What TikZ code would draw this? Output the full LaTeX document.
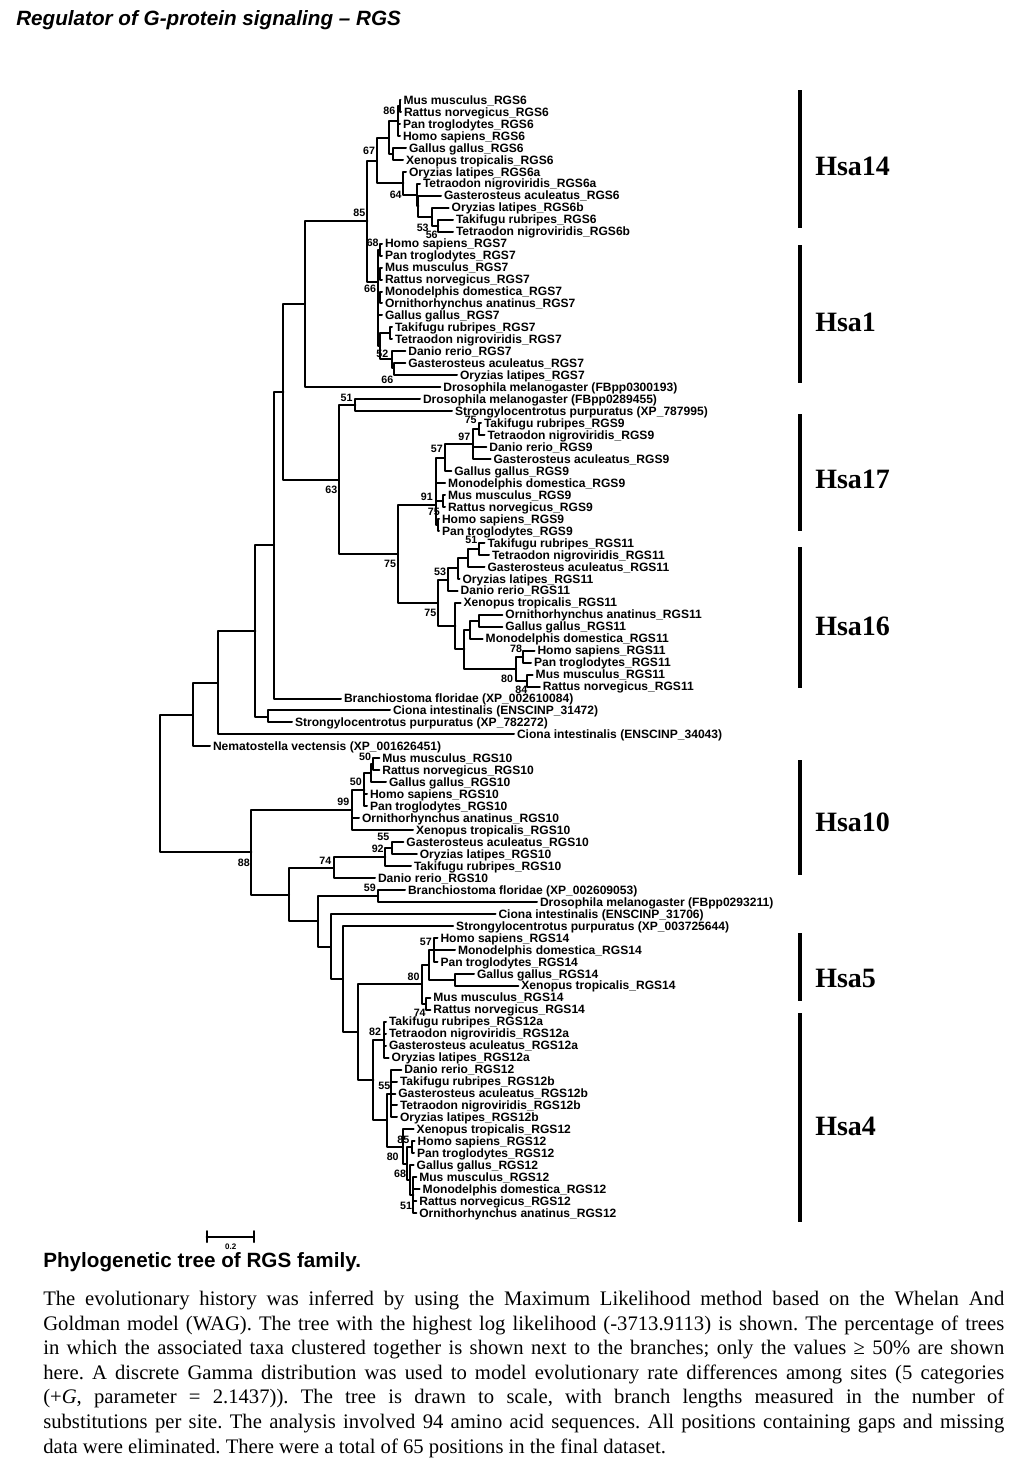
\documentclass[tikz,border=0pt]{standalone}
\usepackage{fontspec}
\setmainfont{Liberation Serif}
\setsansfont{Liberation Sans}
\begin{document}
\begin{tikzpicture}[x=0.75pt, y=-0.75pt, line join=round, line cap=round]
\def\ytop{100}
\def\dy{11.97}
\tikzset{leaf/.style={anchor=west, inner xsep=2.25pt, inner ysep=0pt, outer sep=0pt, text height=6.3pt, text depth=0pt, font=\sffamily\bfseries\fontsize{9.05}{9}\selectfont},
  boot/.style={inner sep=0pt, font=\sffamily\bfseries\fontsize{8}{8}\selectfont},
  br/.style={line width=1.5pt},
  hsa/.style={line width=3pt, line cap=butt},
  chr/.style={anchor=west, inner sep=0pt, font=\rmfamily\bfseries\fontsize{21}{21}\selectfont},
  ttl/.style={anchor=west, inner sep=0pt, font=\sffamily\bfseries\itshape\fontsize{15.5}{16}\selectfont},
  capt/.style={anchor=north west, inner sep=0pt, text width=720.75pt, align=justify, font=\rmfamily\fontsize{15.5}{18.4}\selectfont}}
\useasboundingbox (0,0) rectangle (1019,1475);
\node[ttl] (title) at (16,20) {Regulator of G-protein signaling – RGS};
\foreach \i/\x/\lab in {
  0/400.5/Mus musculus\_RGS6, 1/401/Rattus norvegicus\_RGS6, 2/400/Pan troglodytes\_RGS6, 3/400/Homo sapiens\_RGS6,
  4/406/Gallus gallus\_RGS6, 5/403/Xenopus tropicalis\_RGS6, 6/406/Oryzias latipes\_RGS6a, 7/420/Tetraodon nigroviridis\_RGS6a,
  8/441/Gasterosteus aculeatus\_RGS6, 9/448.7/Oryzias latipes\_RGS6b, 10/453/Takifugu rubripes\_RGS6, 11/453/Tetraodon nigroviridis\_RGS6b,
  12/382/Homo sapiens\_RGS7, 13/382/Pan troglodytes\_RGS7, 14/382/Mus musculus\_RGS7, 15/382/Rattus norvegicus\_RGS7,
  16/382/Monodelphis domestica\_RGS7, 17/382/Ornithorhynchus anatinus\_RGS7, 18/382/Gallus gallus\_RGS7, 19/392/Takifugu rubripes\_RGS7,
  20/392/Tetraodon nigroviridis\_RGS7, 21/405.3/Danio rerio\_RGS7, 22/405.3/Gasterosteus aculeatus\_RGS7, 23/457/Oryzias latipes\_RGS7,
  24/440.3/Drosophila melanogaster (FBpp0300193), 25/420/Drosophila melanogaster (FBpp0289455), 26/452/Strongylocentrotus purpuratus (XP\_787995),
  27/481/Takifugu rubripes\_RGS9, 28/484.5/Tetraodon nigroviridis\_RGS9, 29/486.3/Danio rerio\_RGS9, 30/490.6/Gasterosteus aculeatus\_RGS9,
  31/451.3/Gallus gallus\_RGS9, 32/445.2/Monodelphis domestica\_RGS9, 33/445/Mus musculus\_RGS9, 34/445/Rattus norvegicus\_RGS9,
  35/439/Homo sapiens\_RGS9, 36/439/Pan troglodytes\_RGS9, 37/484.5/Takifugu rubripes\_RGS11, 38/489/Tetraodon nigroviridis\_RGS11,
  39/484.5/Gasterosteus aculeatus\_RGS11, 40/459.5/Oryzias latipes\_RGS11, 41/457.7/Danio rerio\_RGS11, 42/460.6/Xenopus tropicalis\_RGS11,
  43/502.4/Ornithorhynchus anatinus\_RGS11, 44/502.4/Gallus gallus\_RGS11, 45/482.7/Monodelphis domestica\_RGS11, 46/534.5/Homo sapiens\_RGS11,
  47/531/Pan troglodytes\_RGS11, 48/532.7/Mus musculus\_RGS11, 49/539.9/Rattus norvegicus\_RGS11, 50/341/Branchiostoma floridae (XP\_002610084),
  51/390/Ciona intestinalis (ENSCINP\_31472), 52/292/Strongylocentrotus purpuratus (XP\_782272), 53/514/Ciona intestinalis (ENSCINP\_34043),
  54/210/Nematostella vectensis (XP\_001626451), 55/379.3/Mus musculus\_RGS10, 56/379.3/Rattus norvegicus\_RGS10, 57/386/Gallus gallus\_RGS10,
  58/367/Homo sapiens\_RGS10, 59/367/Pan troglodytes\_RGS10, 60/359/Ornithorhynchus anatinus\_RGS10, 61/413/Xenopus tropicalis\_RGS10,
  62/403.4/Gasterosteus aculeatus\_RGS10, 63/416.8/Oryzias latipes\_RGS10, 64/411/Takifugu rubripes\_RGS10, 65/375/Danio rerio\_RGS10,
  66/405/Branchiostoma floridae (XP\_002609053), 67/537/Drosophila melanogaster (FBpp0293211), 68/495.5/Ciona intestinalis (ENSCINP\_31706),
  69/453.2/Strongylocentrotus purpuratus (XP\_003725644), 70/437.5/Homo sapiens\_RGS14, 71/455/Monodelphis domestica\_RGS14,
  72/437.5/Pan troglodytes\_RGS14, 73/474/Gallus gallus\_RGS14, 74/518.4/Xenopus tropicalis\_RGS14, 75/430.4/Mus musculus\_RGS14,
  76/430.4/Rattus norvegicus\_RGS14, 77/386/Takifugu rubripes\_RGS12a, 78/386/Tetraodon nigroviridis\_RGS12a, 79/386/Gasterosteus aculeatus\_RGS12a,
  80/388.7/Oryzias latipes\_RGS12a, 81/401.3/Danio rerio\_RGS12, 82/397/Takifugu rubripes\_RGS12b, 83/395.3/Gasterosteus aculeatus\_RGS12b,
  84/397/Tetraodon nigroviridis\_RGS12b, 85/397/Oryzias latipes\_RGS12b, 86/413.7/Xenopus tropicalis\_RGS12, 87/414.7/Homo sapiens\_RGS12,
  88/414/Pan troglodytes\_RGS12, 89/413.7/Gallus gallus\_RGS12, 90/416.3/Mus musculus\_RGS12, 91/419.7/Monodelphis domestica\_RGS12,
  92/416.3/Rattus norvegicus\_RGS12, 93/416.3/Ornithorhynchus anatinus\_RGS12}
  \node[leaf] (l\i) at (\x,{\ytop+\dy*\i}) {\lab};
\foreach \n/\x/\y in {
  m6a/399.5/106, m6/398.3/121, gx6/392.7/153.9, tet6/389/137.5, f5/438.3/225.7, f4/431.7/216.7, f3/418.3/206.2, f2/416.7/195,
  f1/403.3/183.4, n67/376.7/160.5, h7/380/249.6, mr7/380/273.6, mo7/380/297.5, tt7/390/333.4, go7/394/368.3, dgo7/391.7/359.4,
  f7/380/346.4, r7/377.7/282, n85/367.3/221, n305/305/304, tt9/478.6/429.2, n97/473.2/444.2, n57/444.6/457.7, mr9/442.9/501,
  hp9/437.5/525, r9/435.7/505, tt11/478.6/548.9, g11/467.9/557.9, o11/457.9/568.3, n53/448.2/579.5, og11/478.6/620.7,
  ogm11/469.6/629.7, hp11/523.2/656.6, mr11/526.8/680.6, pr11/516/668.6, am11/464.3/649.2, tet11/455.4/626, r11/437.5/602.9,
  n75/398.2/554, n51/355.4/405.3, n63/338.6/479.8, n284/283.3/391.9, n273/274/545.2, cs/267.9/716.5, n255/255.4/630.8,
  n218/217.9/682.6, n193/192.5/714.5, root/160/783.4, mr10/373.1/764.4, mrg10/371.2/773.3, b10/364.3/789.8, n99/352.1/810,
  n55/391.9/848.1, n92/385.4/857.1, n74/333.7/867.6, n59/378.2/896, hmp14/434.2/949.9, gx14/455/979.8, hx14/428.8/964.9,
  mr14/425.9/1003.8, n80a/421.8/984.4, n82/384.3/1039.7, n55b/390.7/1093.6, hp12/411.7/1147.4, n51b/413.3/1195.3,
  n68/410/1180.3, n80c/406.7/1163.9, t12/402.7/1146.6, n387/386.7/1120.1, n373/373.3/1079.9, n358/357.5/1032.2,
  n343/343/979, n331/330.5/946.5, n318/318/921.3, n289/289/894.5, n88/251.4/852.2}
  \coordinate (\n) at (\x,\y);
\foreach \p/\c in {
  m6a/l0, m6a/l1, m6/m6a, m6/l2, m6/l3, gx6/l4, gx6/l5, tet6/m6, tet6/gx6, f5/l10, f5/l11, f4/l9, f4/f5, f3/l8, f3/f4,
  f2/l7, f2/f3, f1/l6, f1/f2, n67/tet6, n67/f1,
  h7/l12, h7/l13, mr7/l14, mr7/l15, mo7/l16, mo7/l17, tt7/l19, tt7/l20, go7/l22, go7/l23, dgo7/l21, dgo7/go7, f7/tt7, f7/dgo7,
  r7/h7, r7/mr7, r7/mo7, r7/l18, r7/f7, n85/n67, n85/r7, n305/n85, n305/l24,
  tt9/l27, tt9/l28, n97/tt9, n97/l29, n97/l30, n57/n97, n57/l31, mr9/l33, mr9/l34, hp9/l35, hp9/l36, r9/n57, r9/l32, r9/mr9, r9/hp9,
  tt11/l37, tt11/l38, g11/tt11, g11/l39, o11/g11, o11/l40, n53/o11, n53/l41, og11/l43, og11/l44, ogm11/og11, ogm11/l45,
  hp11/l46, hp11/l47, mr11/l48, mr11/l49, pr11/hp11, pr11/mr11, am11/ogm11, am11/pr11, tet11/l42, tet11/am11, r11/n53, r11/tet11,
  n75/r9, n75/r11, n51/l25, n51/l26, n63/n51, n63/n75, n284/n305, n284/n63, n273/n284, n273/l50, cs/l51, cs/l52,
  n255/n273, n255/cs, n218/n255, n218/l53, n193/n218, n193/l54, root/n193, root/n88,
  mr10/l55, mr10/l56, mrg10/mr10, mrg10/l57, b10/mrg10, b10/l58, b10/l59, n99/b10, n99/l60, n99/l61, n55/l62, n55/l63,
  n92/n55, n92/l64, n74/n92, n74/l65, n59/l66, n59/l67,
  hmp14/l70, hmp14/l71, hmp14/l72, gx14/l73, gx14/l74, hx14/hmp14, hx14/gx14, mr14/l75, mr14/l76, n80a/hx14, n80a/mr14,
  n82/l77, n82/l78, n82/l79, n82/l80, n55b/l81, n55b/l82, n55b/l83, n55b/l84, n55b/l85, hp12/l87, hp12/l88,
  n51b/l90, n51b/l91, n51b/l92, n51b/l93, n68/l89, n68/n51b, n80c/hp12, n80c/n68, t12/l86, t12/n80c, n387/n55b, n387/t12,
  n373/n82, n373/n387, n358/n80a, n358/n373, n343/l69, n343/n358, n331/l68, n331/n343, n318/n59, n318/n331,
  n289/n74, n289/n318, n88/n99, n88/n289}
  \draw[br] (\p) |- (\c);
\foreach \x/\y/\v [count=\k] in {
  389.3/111.3/86, 369/151.3/67, 395.7/195.3/64, 359.3/213/85, 422.7/228/53, 431.7/234.7/56, 372.7/243/68, 370/289.3/66,
  382.3/354.3/52, 387.3/380/66, 346.5/397.8/51, 470.7/420/75, 464.3/436.7/97, 436.8/449/57, 331.4/490/63, 426.8/496.7/91,
  433.9/511.7/75, 471.4/540/51, 390/564.3/75, 440/571.7/53, 430.4/613.3/75, 516/649/78, 507.1/679.3/80, 521.4/690/84,
  365/757.3/50, 355.9/781.7/50, 343.3/801.7/99, 383.4/837.3/55, 377.7/849/92, 325.3/860.7/74, 243.8/863.3/88, 369.9/888.3/59,
  425.9/941.7/57, 413.5/976.7/80, 419.7/1012.5/74, 375/1031.7/82, 384.3/1086/55, 403.3/1140/85, 392.7/1156.7/80,
  400/1174.3/68, 406/1206/51}
  \node[boot] (b\k) at (\x,\y) {\v};
\foreach \n/\a/\b/\m in {Hsa14/90/228/166, Hsa1/245/383/322, Hsa17/414/531/479, Hsa16/547/688/626,
  Hsa10/760/875/822, Hsa5/933/1001/978, Hsa4/1013/1222/1126} {
  \draw[hsa] (800,\a) coordinate (\n a) -- (800,\b) coordinate (\n b);
  \node[chr] (\n) at (815,\m) {\n};
}
\coordinate (sa) at (206.7,1236.7);
\coordinate (sb) at (254,1236.7);
\draw[br] (sa) -- (sb) (sa) ++(0,-5.5) -- ++(0,11) (sb) ++(0,-5.5) -- ++(0,11);
\node[boot, font=\sffamily\bfseries\fontsize{6}{6}\selectfont] (sl) at (230.7,1247) {0.2};
\node[ttl] (head) at (43,1262) {\upshape Phylogenetic tree of RGS family.};
\node[capt] (cap) at (43,1291) {\frenchspacing\noindent The evolutionary history was inferred by using the Maximum Likelihood method based on the Whelan And\linebreak
Goldman model (WAG). The tree with the highest log likelihood (-3713.9113) is shown. The percentage of trees\linebreak
in which the associated taxa clustered together is shown next to the branches; only the values ≥ 50\% are shown\linebreak
here. A discrete Gamma distribution was used to model evolutionary rate differences among sites (5 categories\linebreak
(+\textit{G}, parameter = 2.1437)). The tree is drawn to scale, with branch lengths measured in the number of\linebreak
substitutions per site. The analysis involved 94 amino acid sequences. All positions containing gaps and missing\linebreak
data were eliminated. There were a total of 65 positions in the final dataset.};
\end{tikzpicture}
\end{document}
